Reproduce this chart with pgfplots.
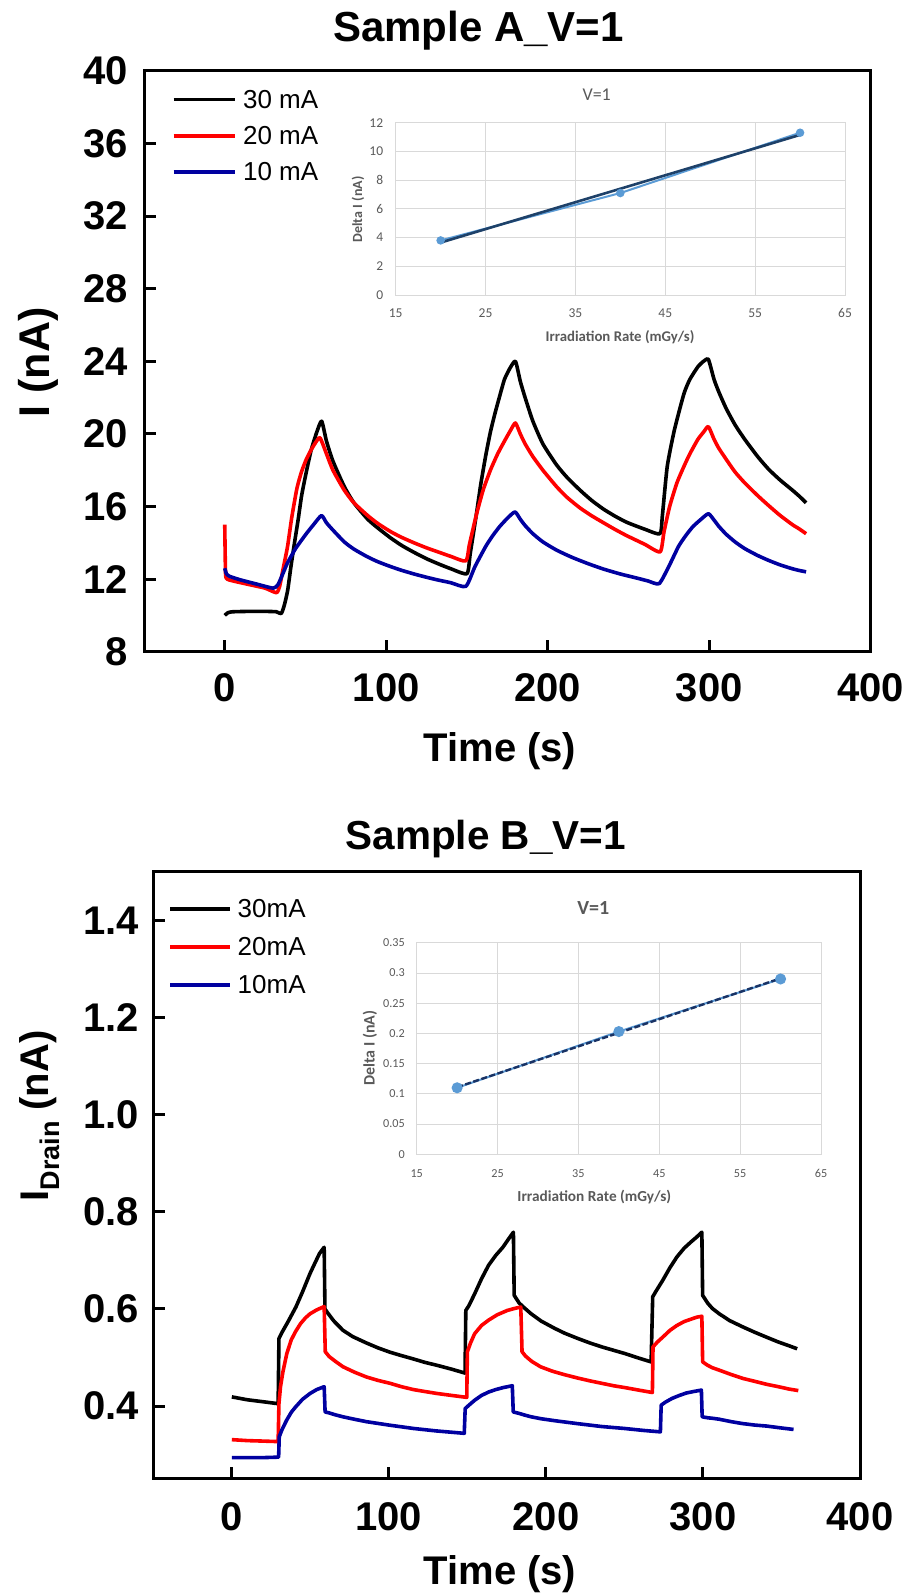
\documentclass[border=0pt]{standalone}
\usepackage{pgfplots}
\pgfplotsset{compat=1.18}
\usepackage{fontspec}
\setmainfont{Liberation Sans}
\newfontfamily\calibri{Carlito}
\definecolor{dblue}{RGB}{0,0,160}
\definecolor{xgray}{RGB}{89,89,89}
\definecolor{xgrid}{RGB}{217,217,217}
\definecolor{xblue}{RGB}{91,155,213}
\definecolor{xnavy}{RGB}{25,50,100}
\definecolor{xtrend}{RGB}{30,65,105}
\newcommand{\fb}{\fontsize{40}{48}\selectfont\bfseries}

\pgfplotstableread{
x y
0 10.0
2 10.15
5 10.2
15 10.22
25 10.22
32 10.2
35 10.1
37 10.6
39 11.4
41 12.7
43.2 14.0
45.5 15.3
47.6 16.6
50.5 17.9
53.5 19.1
57 20.1
60 20.7
63 19.6
67 18.5
74 17.1
80 16.2
88.5 15.3
95 14.8
103 14.25
110 13.83
117.7 13.45
125 13.12
132 12.85
140 12.57
150 12.3
152 13.4
155.7 15.5
158.5 17.2
161.6 18.8
164.5 20.1
167.4 21.15
170 22.0
173.2 23.0
176.5 23.6
180 24.0
183 22.9
186 22.0
190.8 20.7
197 19.45
205.4 18.3
212 17.6
220 16.9
227 16.35
234.6 15.85
242 15.45
249.2 15.12
260 14.75
269.5 14.5
271 15.5
274 18.2
278.4 20.2
284.3 22.2
288 23.0
293 23.7
296.5 24.0
299.5 24.1
303 23.0
306 22.3
310.5 21.4
316 20.5
322 19.7
330 18.75
336.8 18.05
344 17.45
351.5 16.9
356 16.55
360 16.2
}\Ablack

\pgfplotstableread{
x y
0 15.0
0.5 12.3
1.5 12.0
5 11.9
15 11.7
25 11.5
32 11.25
34 11.6
36 12.5
38.9 13.8
41.5 15.4
44.7 17.0
47.5 17.9
50.5 18.6
54 19.2
58.5 19.8
60 19.6
63 18.9
67 18.0
74 16.9
80 16.2
88.5 15.5
95 15.05
103 14.6
110 14.28
117.7 13.98
125 13.72
132 13.5
140 13.25
149.3 13.0
151.5 13.9
155.7 15.5
160 16.9
164.5 18.0
169 18.9
173.2 19.6
177 20.2
180 20.6
183 20.0
186 19.45
190.8 18.75
197 18.0
205.4 17.1
212 16.5
220 15.92
227 15.5
234.6 15.1
242 14.72
249.2 14.38
260 13.92
269.6 13.5
272 14.6
275.5 16.0
280 17.3
284.3 18.2
288 18.9
293 19.7
296.5 20.1
299.5 20.4
303 19.7
306 19.2
310.5 18.6
316 17.9
322 17.3
330 16.6
336.8 16.05
344 15.5
351.5 15.0
356 14.75
360 14.5
}\Ared

\pgfplotstableread{
x y
0 12.6
1 12.3
3 12.15
10 11.95
20 11.72
30 11.5
33 11.7
36 12.3
38.9 12.9
44 13.7
50.5 14.5
55 15.0
59.9 15.5
63 15.1
67 14.7
74 14.05
80 13.65
88.5 13.22
95 12.95
103 12.68
110 12.47
117.7 12.27
125 12.1
132 11.95
140 11.8
149.3 11.6
155 12.7
161.6 13.8
166 14.4
170.3 14.9
175 15.35
179.7 15.7
183 15.3
186 14.95
190.8 14.5
197 14.05
205.4 13.6
215 13.2
225 12.85
234.6 12.55
245 12.28
255 12.06
262 11.9
269 11.75
275 12.7
281 13.8
285.5 14.4
290 14.9
295 15.3
299.5 15.6
303 15.25
306 14.9
310.5 14.47
316 14.05
322 13.68
330 13.3
336.8 13.03
344 12.78
351.5 12.57
356 12.47
360 12.4
}\Ablue

\pgfplotstableread{
x y
0 0.419
10 0.413
20 0.409
29.5 0.405
30 0.539
31.8 0.551
36 0.575
40.8 0.604
45 0.635
49.8 0.673
53 0.695
55.8 0.714
58.8 0.727
59.3 0.600
61 0.592
65 0.575
70.8 0.556
77 0.543
85.7 0.530
93 0.520
100.7 0.511
108 0.504
115.7 0.497
123 0.490
130.7 0.484
140 0.476
148.5 0.468
149 0.597
151 0.607
154.6 0.631
159 0.662
163.5 0.690
168 0.710
172.6 0.727
176 0.743
179.3 0.758
179.8 0.628
183 0.612
186 0.603
190.6 0.590
197 0.575
205.6 0.560
212 0.550
220.5 0.539
228 0.530
235.5 0.522
243 0.515
250.5 0.508
258 0.500
267 0.491
268 0.625
270 0.636
274.4 0.659
279 0.685
283.4 0.707
288 0.725
292.4 0.738
296 0.748
299.3 0.758
299.8 0.628
303 0.612
306 0.601
310.4 0.590
317 0.576
325.4 0.563
333 0.552
340.4 0.542
348 0.532
355 0.524
360 0.518
}\Bblack

\pgfplotstableread{
x y
0 0.331
10 0.329
20 0.328
29.5 0.327
30 0.405
31 0.440
32.5 0.470
35 0.508
37.8 0.536
40.5 0.553
43.8 0.570
47 0.582
49.8 0.590
54 0.598
58.8 0.605
59.5 0.512
62 0.502
66 0.492
70.8 0.481
78 0.470
85.7 0.460
93 0.453
100.7 0.447
108 0.440
115.7 0.434
123 0.430
130.7 0.426
140 0.422
149.6 0.418
150 0.512
152 0.530
154.6 0.549
159 0.566
163.5 0.577
169 0.588
175.5 0.597
180 0.601
184 0.604
184.8 0.512
187 0.503
191 0.492
196.6 0.481
204 0.472
211.5 0.465
220 0.458
228 0.452
235.5 0.447
243 0.442
250.5 0.438
259 0.433
267.8 0.428
268.2 0.522
271 0.532
274.4 0.542
279 0.556
283.4 0.566
288 0.574
292.4 0.579
296 0.583
299.3 0.585
299.8 0.491
303 0.484
306 0.479
310.4 0.474
318 0.465
325.4 0.457
333 0.451
340.4 0.445
348 0.440
355 0.435
360.7 0.432
}\Bred

\pgfplotstableread{
x y
0 0.294
10 0.294
20 0.294
29.8 0.295
30.2 0.337
32 0.352
34.9 0.371
38 0.388
40.8 0.399
45 0.414
49.8 0.426
54 0.434
58.8 0.440
59.4 0.388
62 0.386
66 0.382
70.8 0.378
78 0.373
85.7 0.368
100 0.361
115.7 0.354
130 0.349
148 0.344
148.6 0.395
151 0.402
154.6 0.412
159 0.422
163.5 0.429
168 0.434
172.6 0.438
178.6 0.442
179.2 0.388
183 0.385
186 0.382
190.6 0.378
197 0.374
205.6 0.370
220 0.364
235.5 0.358
250 0.354
262 0.350
272.9 0.347
273.4 0.402
276 0.408
280.4 0.416
285 0.422
289.4 0.427
294 0.430
299 0.433
299.5 0.378
303 0.376
306 0.375
310.4 0.373
318 0.368
325.4 0.364
333 0.361
340.4 0.359
350 0.355
357.7 0.352
}\Bblue

\pgfplotsset{
  mainax/.style={
    scale only axis, anchor=south west,
    axis line style={line width=3pt},
    tick style={line width=3pt, black},
    major tick length=12pt, tick align=inside, tick pos=left,
    xmin=-50, xmax=400, xtick={0,100,200,300,400},
    /pgf/number format/assume math mode=true,
    tick label style={font=\fb},
    xticklabel style={anchor=center, inner sep=0pt},
    yticklabel style={anchor=east, inner sep=0pt},
    legend cell align=left,
    legend style={draw=none, fill=none, inner sep=0pt, anchor=north west,
      at={(0,1)}, font=\fontsize{26}{30}\selectfont,
      nodes={inner sep=0pt}},
    legend image code/.code={\draw[#1, line width=3.5pt] (0pt,0pt) -- (61pt,0pt);},
  },
  dline/.style={line width=3.6pt, line join=round, mark=none},
  inset/.style={
    scale only axis, anchor=south west,
    axis line style={xgrid, line width=0.8pt},
    grid=major, grid style={xgrid, line width=0.8pt},
    major tick length=0pt, tick style={draw=none},
    xmin=15, xmax=65, xtick={15,25,35,45,55,65},
    scaled ticks=false,
    /pgf/number format/assume math mode=true,
    xticklabel style={anchor=center, inner sep=0pt},
    yticklabel style={anchor=east, inner sep=0pt},
  },
}

\begin{document}
\begin{tikzpicture}[x=1pt,y=1pt]
\path[use as bounding box] (0,0) rectangle (907,1593);

% ---------------- Top main axis ----------------
\begin{axis}[mainax,
  at={(144pt,941.3pt)}, width=726.7pt, height=580.8pt,
  ymin=8, ymax=40, ytick={8,12,16,20,24,28,32,36,40},
  xticklabel style={yshift=-36pt},
  yticklabel style={xshift=-15.7pt},
  legend style={xshift=27.7pt, yshift=-18.8pt, row sep=16.4pt, column sep=6.7pt},
]
\addplot[dline, black, smooth, tension=0.35] table {\Ablack};
\addlegendentry{30 mA}
\addplot[dline, red, smooth, tension=0.35] table {\Ared};
\addlegendentry{20 mA}
\addplot[dline, dblue, smooth, tension=0.35] table {\Ablue};
\addlegendentry{10 mA}
\end{axis}

% ---------------- Top inset ----------------
\begin{axis}[inset,
  at={(395.7pt,1298pt)}, width=449.3pt, height=172.3pt,
  ymin=0, ymax=12, ytick={0,2,4,6,8,10,12},
  tick label style={font=\calibri\fontsize{13.5}{16}\selectfont, text=xgray},
  xticklabel style={yshift=-18pt},
  yticklabel style={xshift=-12.4pt},
]
\addplot[xblue, line width=2pt, mark=*, mark size=3.2pt, mark options={fill=xblue, draw=xblue}]
  coordinates {(20,3.8) (40,7.1) (60,11.3)};
\addplot[xtrend, line width=2.6pt] coordinates {(20,3.65) (60,11.15)};
\end{axis}

% ---------------- Bottom main axis ----------------
\begin{axis}[mainax,
  at={(153.3pt,114pt)}, width=706.7pt, height=607.3pt,
  ymin=0.25, ymax=1.5, ytick={0.4,0.6,0.8,1.0,1.2,1.4},
  yticklabels={0.4,0.6,0.8,1.0,1.2,1.4},
  xticklabel style={yshift=-37.7pt},
  yticklabel style={xshift=-14pt},
  legend style={xshift=15pt, yshift=-27.5pt, row sep=18.3pt, column sep=5.7pt},
  legend image code/.code={\draw[#1, line width=3.5pt] (0pt,0pt) -- (60pt,0pt);},
]
\addplot[dline, black] table {\Bblack};
\addlegendentry{30mA}
\addplot[dline, red] table {\Bred};
\addlegendentry{20mA}
\addplot[dline, dblue] table {\Bblue};
\addlegendentry{10mA}
\end{axis}

% ---------------- Bottom inset ----------------
\begin{axis}[inset,
  at={(416.7pt,438.7pt)}, width=404.3pt, height=211.6pt,
  ymin=0, ymax=0.35, ytick={0,0.05,0.1,0.15,0.2,0.25,0.3,0.35},
  yticklabels={0,0.05,0.1,0.15,0.2,0.25,0.3,0.35},
  tick label style={font=\calibri\fontsize{12.2}{14}\selectfont, text=xgray},
  xticklabel style={yshift=-19pt},
  yticklabel style={xshift=-11.7pt},
]
\addplot[xblue, line width=2pt, mark=*, mark size=4.5pt, mark options={fill=xblue, draw=xblue}]
  coordinates {(20,0.11) (40,0.203) (60,0.29)};
\addplot[xnavy, line width=2.4pt, dash pattern=on 6pt off 2.5pt] coordinates {(20,0.111) (60,0.291)};
\end{axis}

% ---------------- Titles and labels ----------------
\node[anchor=base, font=\fontsize{42}{50}\selectfont\bfseries] at (478.6,1551) {Sample A\_V=1};
\node[anchor=base, font=\fontsize{40.5}{48}\selectfont\bfseries] at (485.8,743) {Sample B\_V=1};
\node[anchor=base, font=\fb] at (500,831) {Time (s)};
\node[anchor=base, font=\fb] at (500,8.5) {Time (s)};
\node[rotate=90, font=\fontsize{43}{50}\selectfont\bfseries] at (38.6,1230.5) {I (nA)};
\node[rotate=90, font=\fb] at (40,477) {I\raisebox{-0.28em}{\fontsize{27}{30}\selectfont Drain} (nA)};

% inset labels
\node[font=\calibri\fontsize{18}{20}\selectfont, text=xgray] at (596.7,1498) {V=1};
\node[rotate=90, font=\calibri\fontsize{14}{16}\selectfont\bfseries, text=xgray] at (358,1383.5) {Delta I (nA)};
\node[font=\calibri\fontsize{14.8}{17}\selectfont\bfseries, text=xgray] at (620,1256) {Irradiation Rate (mGy/s)};

\node[font=\calibri\fontsize{20}{22}\selectfont\bfseries, text=xgray] at (593.3,685.3) {V=1};
\node[rotate=90, font=\calibri\fontsize{16}{18}\selectfont\bfseries, text=xgray] at (370,545) {Delta I (nA)};
\node[font=\calibri\fontsize{15.3}{17}\selectfont\bfseries, text=xgray] at (594.3,396.3) {Irradiation Rate (mGy/s)};
\end{tikzpicture}
\end{document}
